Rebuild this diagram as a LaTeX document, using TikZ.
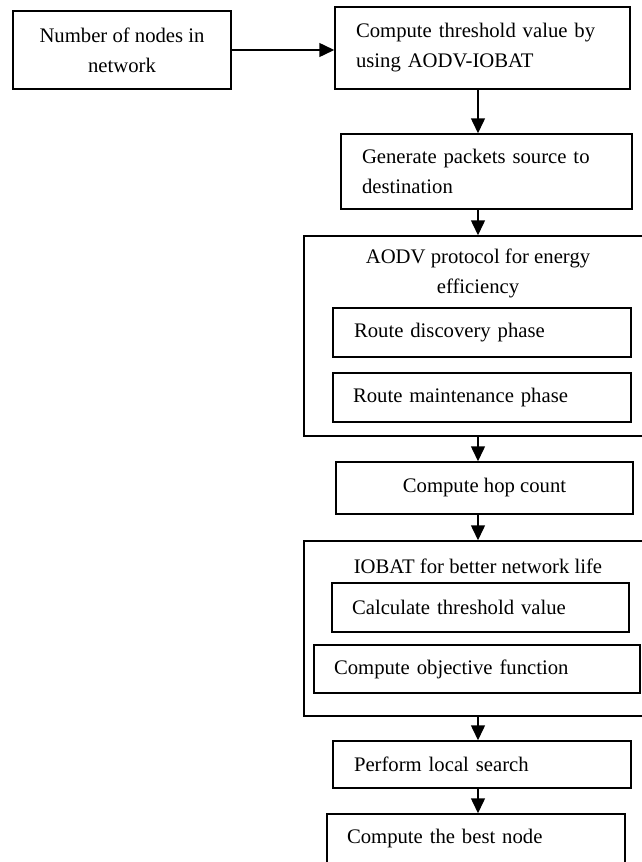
\documentclass[tikz,border=0pt]{standalone}
\usepackage{fontspec}
\setmainfont{Liberation Serif}
\usetikzlibrary{arrows.meta}
\tikzset{
  every node/.style={font=\fontsize{20.7}{30}\selectfont},
  box/.style={draw, line width=1.5pt, inner ysep=0pt},
  leftbox/.style args={#1/#2/#3}{box, minimum width=#1pt, minimum height=#2pt,
     inner xsep=#3pt, text width=#1pt-2*#3pt, align=left},
  cbox/.style args={#1/#2}{box, minimum width=#1pt, minimum height=#2pt, align=center, inner xsep=0pt},
  arr/.style={line width=1.5pt, -{Triangle[length=15pt,width=14pt]}},
  title/.style={align=center, inner sep=0pt}
}
\begin{document}
\begin{tikzpicture}[x=1pt,y=-1pt]
\clip (0,0) rectangle (642,862);
\fill[white] (0,0) rectangle (642,862);
\node[cbox=218/78] (A) at (122,50) {Number of nodes in\\network};
\node[leftbox=295/82/21] (B) at (482.5,48) {Compute threshold value by\\using AODV-IOBAT};
\node[leftbox=291/75/21] (C) at (486.5,171.5) {Generate packets source to\\destination};
\node[cbox=348/200] (D) at (478,336) {};
\node[title] (Dt) at (478,273) {AODV protocol for energy\\efficiency};
\node[leftbox=298/49/21] (D1) at (482,332.5) {Route discovery phase};
\node[leftbox=298/49/20] (D2) at (482,397.5) {Route maintenance phase};
\node[cbox=297/52] (E) at (484.5,488) {Compute hop count};
\node[cbox=348/175] (F) at (478,628.5) {};
\node[title] (Ft) at (478,566) {IOBAT for better network life};
\node[leftbox=297/49/20] (F1) at (480.5,607.5) {Calculate threshold value};
\node[leftbox=326/48/20] (F2) at (477,669) {Compute objective function};
\node[leftbox=298/47/21] (G) at (482,764.5) {Perform local search};
\node[leftbox=298/50/20] (H) at (476,839) {Compute the best node};
\draw[arr] (A.east) -- (B.west |- A.east);
\draw[arr] (B.south -| D.north) -- (C.north -| D.north);
\draw[arr] (C.south -| D.north) -- (D.north);
\draw[arr] (D.south) -- (E.north -| D.south);
\draw[arr] (E.south -| F.north) -- (F.north);
\draw[arr] (F.south) -- (G.north -| F.south);
\draw[arr] (G.south -| F.south) -- (H.north -| F.south);
\end{tikzpicture}
\end{document}
